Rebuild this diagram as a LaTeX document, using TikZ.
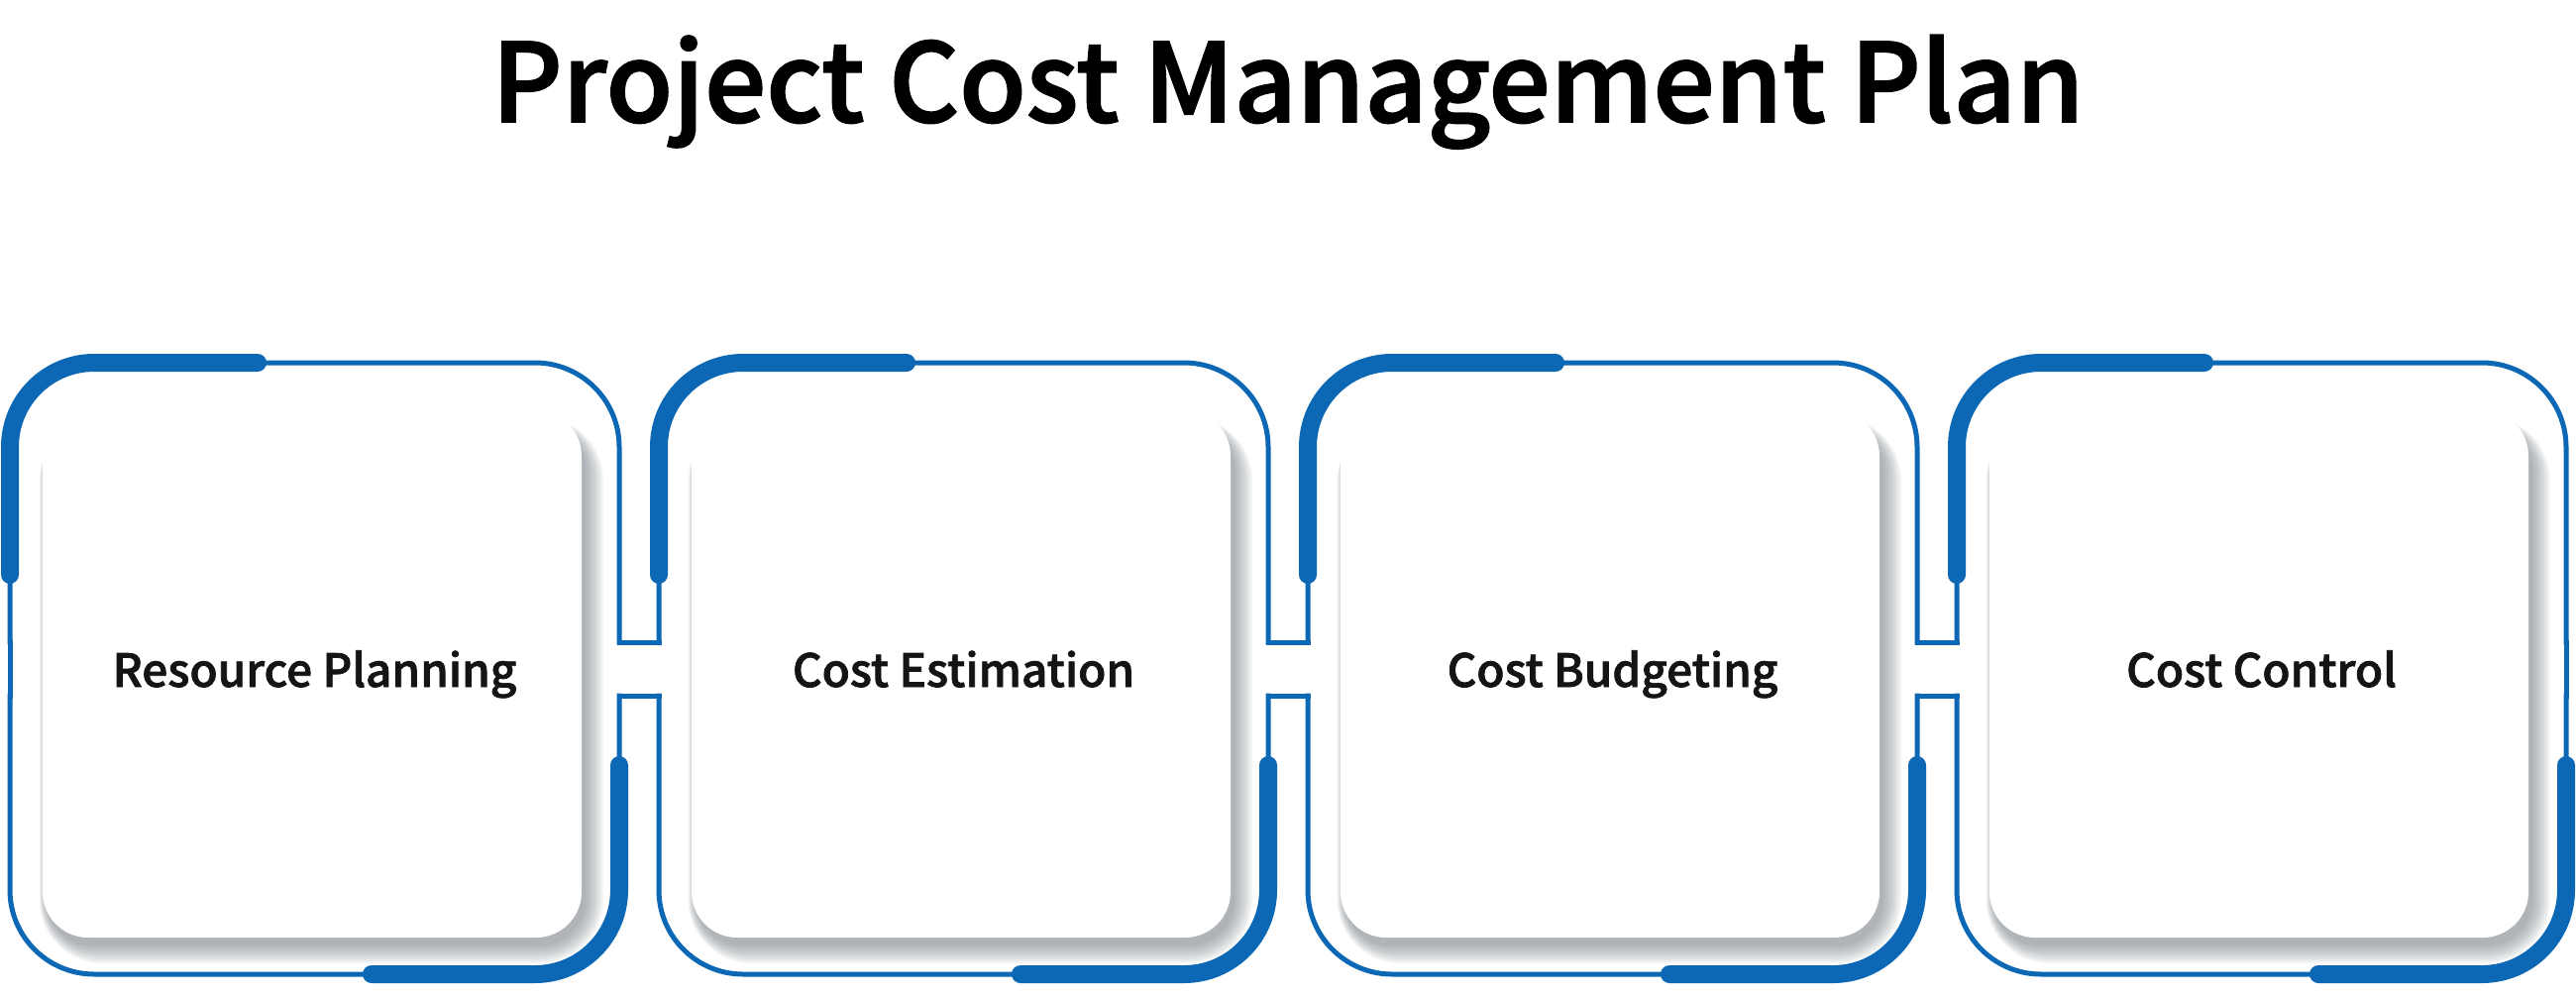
\documentclass[tikz,border=0pt]{standalone}
\usepackage{fontspec}
\setmainfont{Noto Sans CJK SC}
\newfontfamily\medfont{Noto Sans CJK SC}[UprightFont={* Medium}, FakeBold=1.6]
\usetikzlibrary{calc,positioning}

\definecolor{frameBlue}{RGB}{12,104,180}
\definecolor{shadeGray}{RGB}{110,118,126}

\tikzset{
    thinline/.style={draw=frameBlue, line width=5pt, line cap=rect},
    thickline/.style={draw=frameBlue, line width=18pt, line cap=round, rounded corners=85pt},
    cardtext/.style={font=\medfont\fontsize{46}{55}\selectfont, text=black!92, anchor=base},
    titletext/.style={font=\medfont\fontsize{110}{124}\selectfont, text=black, anchor=base},
}

\begin{document}
\begin{tikzpicture}[x=1pt,y=-1pt]

\useasboundingbox (0,0) rectangle (2600,1005);
\fill[white] (0,0) rectangle (2600,1005);

\node[titletext] (cTitle) at (1300,123) {Project Cost Management Plan};

\foreach \i/\lbl in
{0/Resource Planning,
    1/Cost Estimation,
    2/Cost Budgeting,
    3/Cost Control
}
{
    \pgfmathsetmacro{\pL}{10+655*\i}
    \pgfmathsetmacro{\pR}{\pL+615}
    % shadow under the card
    \foreach \s in {0,2,...,18}
        \fill[shadeGray, opacity=0.07, rounded corners={(46+\s)*1pt}]
            ({\pL+37-0.4*\s},{428-0.4*\s}) rectangle ({\pR-34+\s},{954+\s});
    \fill[white, rounded corners=46pt] ({\pL+33},414) rectangle ({\pR-38},946);
    \node[cardtext] (cLabel\i) at ({(\pL+\pR)/2},693) {\lbl};
    % frame
    \draw[thinline, rounded corners=85pt] (\pL,648) -- (\pL,366) -- (\pR,366) -- (\pR,648);
    \draw[thinline, rounded corners=85pt] (\pL,702) -- (\pL,983) -- (\pR,983) -- (\pR,702);
    \draw[thickline] (\pL,580) -- (\pL,366) -- ({\pL+250},366);
    \draw[thickline] (\pR,772) -- (\pR,983) -- ({\pR-250},983);
};

% links between the frames
\foreach \i in {0,1,2}
{
    \pgfmathsetmacro{\pR}{625+655*\i}
    \pgfmathsetmacro{\pN}{\pR+40}
    \draw[thinline] (\pR,648) -- (\pN,648);
    \draw[thinline] (\pR,702) -- (\pN,702);
};
\draw[thinline] (10,648) -- (10,702);
\draw[thinline] (2590,648) -- (2590,702);

\end{tikzpicture}
\end{document}
